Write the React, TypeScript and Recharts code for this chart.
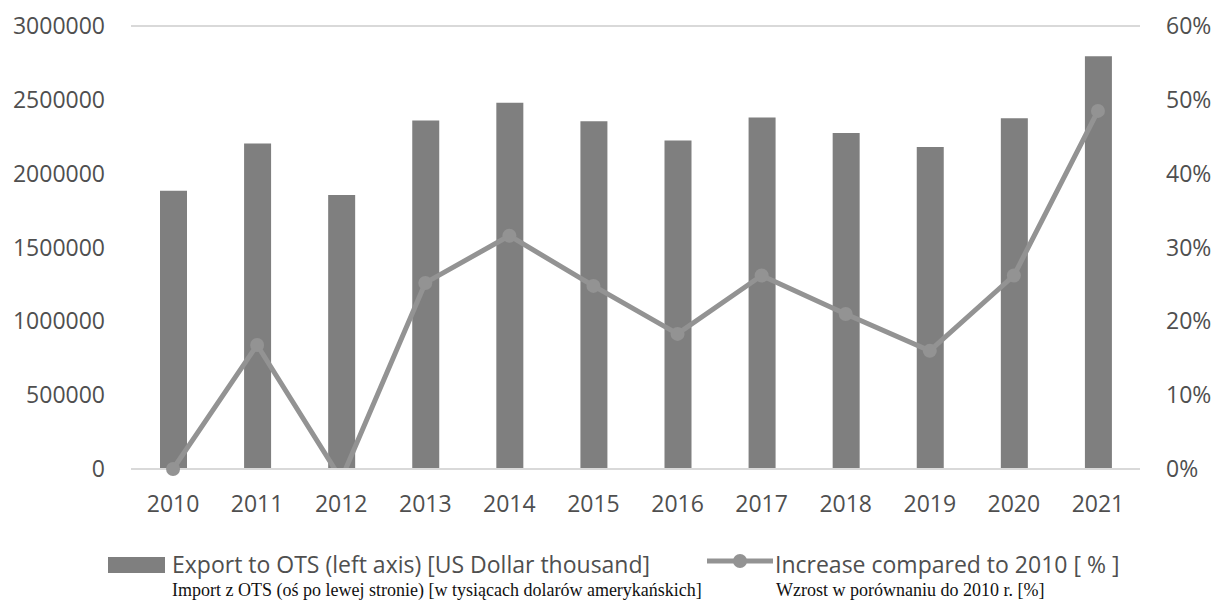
import { Bar, CartesianGrid, ComposedChart, Legend, Line, XAxis, YAxis } from "recharts";

const YEARS = ["2010", "2011", "2012", "2013", "2014", "2015", "2016", "2017", "2018", "2019", "2020", "2021"];
const EXPORT_VALUES = [1885000, 2205000, 1855000, 2360000, 2480000, 2355000, 2225000, 2380000, 2275000, 2180000, 2375000, 2795000];
const INCREASE_PCT = [0, 16.8, -1.4, 25.2, 31.6, 24.8, 18.3, 26.2, 21, 16, 26.2, 48.5];
const LEFT_TICKS = [0, 500000, 1000000, 1500000, 2000000, 2500000, 3000000];
const RIGHT_TICKS = [0, 10, 20, 30, 40, 50, 60];

const BAR_NAME = "Export to OTS (left axis) [US Dollar thousand]";
const LINE_NAME = "Increase compared to 2010 [ % ]";
const BAR_CAPTION = "Import z OTS (oś po lewej stronie) [w tysiącach dolarów amerykańskich]";
const LINE_CAPTION = "Wzrost w porównaniu do 2010 r. [%]";

const BAR_COLOR = "#7f7f7f";
const LINE_COLOR = "#939393";
const TEXT_COLOR = "#4f4f4f";
const FONT = "'Open Sans', sans-serif";

// 2012 dips just under 0% and is cut by the axis, so no marker there
const data = YEARS.map((year, i) => ({
  year,
  exports: EXPORT_VALUES[i],
  increase: INCREASE_PCT[i],
  marker: INCREASE_PCT[i] < 0 ? null : INCREASE_PCT[i],
}));

const tickStyle = { fill: TEXT_COLOR, fontSize: 23, fontFamily: FONT };

function LegendBlock() {
  const label = {
    position: "absolute" as const,
    fontFamily: FONT,
    fontSize: 23,
    lineHeight: "23px",
    color: TEXT_COLOR,
    whiteSpace: "nowrap" as const,
  };
  const caption = {
    position: "absolute" as const,
    fontFamily: "'Liberation Serif', serif",
    fontSize: 18,
    lineHeight: "20px",
    color: "#111",
    whiteSpace: "nowrap" as const,
  };
  return (
    <div style={{ position: "relative", width: 1214, height: 50 }}>
      <div style={{ position: "absolute", left: 108, top: 4, width: 57, height: 16, background: BAR_COLOR }} />
      <div style={{ ...label, left: 172, top: 0 }}>{BAR_NAME}</div>
      <svg style={{ position: "absolute", left: 705, top: 0 }} width={70} height={24}>
        <line x1={2} y1={8} x2={68} y2={8} stroke={LINE_COLOR} strokeWidth={5} />
        <circle cx={35} cy={8} r={7} fill={LINE_COLOR} />
      </svg>
      <div style={{ ...label, left: 775, top: 0 }}>{LINE_NAME}</div>
      <div style={{ ...caption, left: 172, top: 27 }}>{BAR_CAPTION}</div>
      <div style={{ ...caption, left: 776, top: 27 }}>{LINE_CAPTION}</div>
    </div>
  );
}

export default function App() {
  return (
    <div style={{ position: "absolute", left: 0, top: 0, background: "#fff" }}>
      <ComposedChart
        width={1214}
        height={603}
        data={data}
        margin={{ top: 26, right: 0, bottom: 34, left: 0 }}
        barCategoryGap={0}
      >
        <CartesianGrid vertical={false} stroke="#d9d9d9" strokeWidth={2} />
        <XAxis
          dataKey="year"
          tick={tickStyle}
          tickLine={false}
          tickSize={0}
          tickMargin={27}
          axisLine={{ stroke: "#d9d9d9", strokeWidth: 2 }}
          height={50}
        />
        <YAxis
          yAxisId="left"
          domain={[0, 3000000]}
          ticks={LEFT_TICKS}
          tick={tickStyle}
          tickLine={false}
          tickSize={0}
          tickMargin={26}
          axisLine={false}
          width={131}
          interval={0}
        />
        <YAxis
          yAxisId="right"
          orientation="right"
          domain={[0, 60]}
          ticks={RIGHT_TICKS}
          allowDataOverflow
          tickFormatter={(v: number) => `${v}%`}
          tick={{ ...tickStyle, textAnchor: "start" }}
          tickLine={false}
          tickSize={0}
          tickMargin={26}
          axisLine={false}
          width={74}
          interval={0}
        />
        <YAxis yAxisId="markers" orientation="left" domain={[0, 60]} width={0} hide />
        <Bar yAxisId="left" dataKey="exports" name={BAR_NAME} fill={BAR_COLOR} barSize={27} isAnimationActive={false} />
        <Line
          yAxisId="right"
          dataKey="increase"
          name={LINE_NAME}
          stroke={LINE_COLOR}
          strokeWidth={5}
          type="linear"
          dot={false}
          activeDot={false}
          isAnimationActive={false}
        />
        <Line
          yAxisId="markers"
          dataKey="marker"
          legendType="none"
          stroke="none"
          dot={{ r: 7, fill: LINE_COLOR, stroke: "none" }}
          activeDot={false}
          isAnimationActive={false}
        />
        <Legend
          verticalAlign="bottom"
          content={() => <LegendBlock />}
          wrapperStyle={{ position: "absolute", left: 0, top: 553, width: 1214 }}
        />
      </ComposedChart>
    </div>
  );
}
